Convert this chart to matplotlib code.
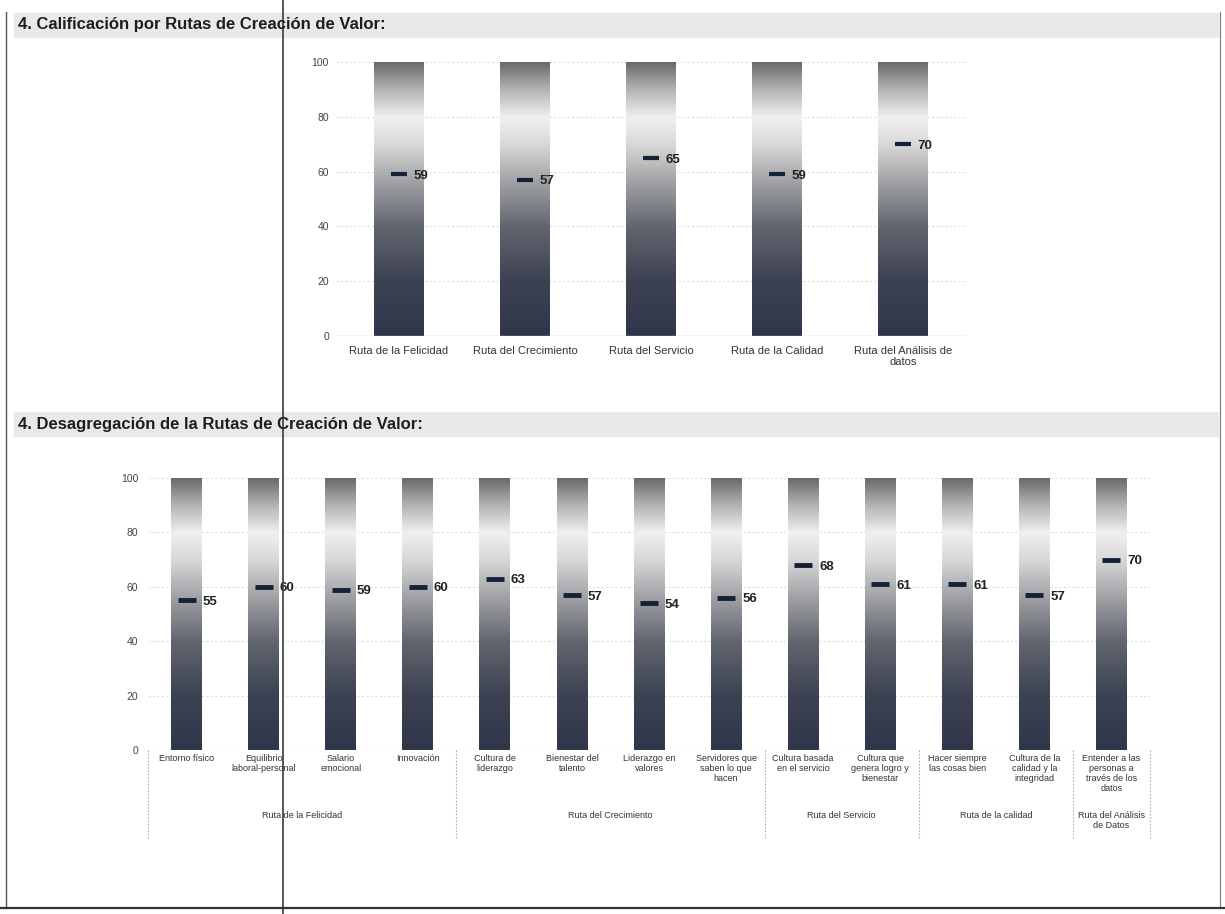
import matplotlib.pyplot as plt
import numpy as np
from matplotlib.colors import LinearSegmentedColormap
from matplotlib.lines import Line2D
from matplotlib.patches import Rectangle
from matplotlib.transforms import blended_transform_factory

# --- datos: gráfico superior ---
rutas = ["Ruta de la Felicidad", "Ruta del Crecimiento", "Ruta del Servicio",
         "Ruta de la Calidad", "Ruta del Análisis de\ndatos"]
calif_rutas = [59, 57, 65, 59, 70]

# --- datos: gráfico inferior ---
componentes = ["Entorno físico", "Equilibrio\nlaboral-personal", "Salario\nemocional",
               "Innovación", "Cultura de\nliderazgo", "Bienestar del\ntalento",
               "Liderazgo en\nvalores", "Servidores que\nsaben lo que\nhacen",
               "Cultura basada\nen el servicio", "Cultura que\ngenera logro y\nbienestar",
               "Hacer siempre\nlas cosas bien", "Cultura de la\ncalidad y la\nintegridad",
               "Entender a las\npersonas a\ntravés de los\ndatos"]
calif_componentes = [55, 60, 59, 60, 63, 57, 54, 56, 68, 61, 61, 57, 70]
grupos = ["Ruta de la Felicidad", "Ruta del Crecimiento", "Ruta del Servicio",
          "Ruta de la calidad", "Ruta del Análisis\nde Datos"]
tam_grupos = [4, 4, 2, 2, 1]

escala_max = 100
yticks = [0, 20, 40, 60, 80, 100]

W, H = 1225, 914
FUENTE = ['Liberation Sans', 'DejaVu Sans']
FUENTE_NUM = ['Liberation Sans Narrow', 'Liberation Sans', 'DejaVu Sans']
plt.rcParams['font.family'] = FUENTE

degradado = LinearSegmentedColormap.from_list("barra", [
    (0.00, "#30364a"), (0.20, "#3d4253"), (0.40, "#62666f"), (0.55, "#9c9da1"),
    (0.70, "#d8d8d8"), (0.80, "#f0f0f0"), (0.90, "#b4b4b4"), (1.00, "#6a6a6a")])


def px(x):
    return x / W


def py(y):
    return 1 - y / H


def ejes(left, right, y0, y100):
    return fig.add_axes([px(left), py(y0), (right - left) / W, (y0 - y100) / H])


def barras_degradado(ax, n, ancho):
    barras = ax.bar(np.arange(n), [escala_max] * n, ancho, color='none', edgecolor='none')
    grad = np.linspace(0, 1, 256).reshape(-1, 1)
    for b in barras:
        x0 = b.get_x()
        ax.imshow(grad, cmap=degradado, origin='lower', aspect='auto', zorder=2,
                  extent=[x0, x0 + b.get_width(), 0, b.get_height()])


def estilo(ax, n, pad_y):
    ax.set_xlim(-0.5, n - 0.5)
    ax.set_ylim(0, escala_max)
    ax.set_yticks(yticks)
    ax.tick_params(axis='y', length=0, pad=pad_y, labelsize=7.5, labelcolor='#444444')
    ax.tick_params(axis='x', length=0)
    for s in ['top', 'right', 'left', 'bottom']:
        ax.spines[s].set_visible(False)
    for t in yticks[1:]:
        ax.axhline(t, color='#dedede', lw=0.8, ls=(0, (2, 2)), zorder=1)
    ax.patch.set_alpha(0)


def marcas(ax, valores, ms, mew, dx):
    x = np.arange(len(valores))
    ax.plot(x, valores, ls='none', marker='_', ms=ms, mew=mew, color='#142238', zorder=4)
    for i, v in enumerate(valores):
        ax.annotate(f"{v}", (i, v), xytext=(dx, -1.2), textcoords='offset points',
                    ha='left', va='center', fontsize=9.5, fontweight='bold',
                    color='#222222', family=FUENTE_NUM, zorder=5)


fig = plt.figure(figsize=(W / 100, H / 100), dpi=100)

# bandas de título
for y_top, titulo in [(13, "4. Calificación por Rutas de Creación de Valor:"),
                      (412, "4. Desagregación de la Rutas de Creación de Valor:")]:
    fig.add_artist(Rectangle((px(14), py(y_top + 24)), px(1204), 24 / H,
                             transform=fig.transFigure, color='#e9e9e9', zorder=0))
    fig.text(px(18), py(y_top + 12), titulo, ha='left', va='center', fontsize=12,
             fontweight='bold', color='#1e1e1e')

# --- gráfico superior ---
ax1 = ejes(336, 966, 336, 62)
barras_degradado(ax1, len(rutas), 0.39)
estilo(ax1, len(rutas), 5)
ax1.axhline(0, color='#c4c4c4', lw=1.0, zorder=3)
ax1.set_xticks(np.arange(len(rutas)))
ax1.set_xticklabels(rutas, fontsize=8, color='#333333', linespacing=1.2)
ax1.tick_params(axis='x', pad=7)
marcas(ax1, calif_rutas, 11.5, 3.0, 10.5)

# --- gráfico inferior ---
n = len(componentes)
ax2 = ejes(148, 1150, 750, 478)
barras_degradado(ax2, n, 0.40)
estilo(ax2, n, 7)
ax2.axhline(0, color='#b8b8b8', lw=0.8, ls=(0, (1.5, 1.5)), zorder=3)
ax2.set_xticks(np.arange(n))
ax2.set_xticklabels(componentes, fontsize=6.5, color='#333333', linespacing=1.15)
ax2.tick_params(axis='x', pad=3)
marcas(ax2, calif_componentes, 13.5, 3.5, 11.5)

trans = blended_transform_factory(ax2.transData, ax2.transAxes)
limites = np.concatenate([[0], np.cumsum(tam_grupos)]) - 0.5
for xb in limites:
    ax2.plot([xb, xb], [0, -0.325], transform=trans, clip_on=False,
             ls=(0, (1.5, 1.5)), color='#b0b0b0', lw=0.8)
for g, a, b in zip(grupos, limites[:-1], limites[1:]):
    ax2.text((a + b) / 2, -0.225, g, transform=trans, ha='center', va='top',
             fontsize=6.5, color='#333333', linespacing=1.15)

# líneas del escaneo (bordes de página)
fig.add_artist(Line2D([px(283), px(283)], [0, 1], color='#3a3a3a', lw=1.2))
fig.add_artist(Line2D([px(6), px(6)], [py(12), py(908)], color='#555555', lw=1.0))
fig.add_artist(Line2D([px(1220), px(1220)], [py(12), py(908)], color='#777777', lw=0.8))
fig.add_artist(Line2D([0, 1], [py(908), py(908)], color='#333333', lw=1.6))

fig.savefig("out.png", dpi=100)
